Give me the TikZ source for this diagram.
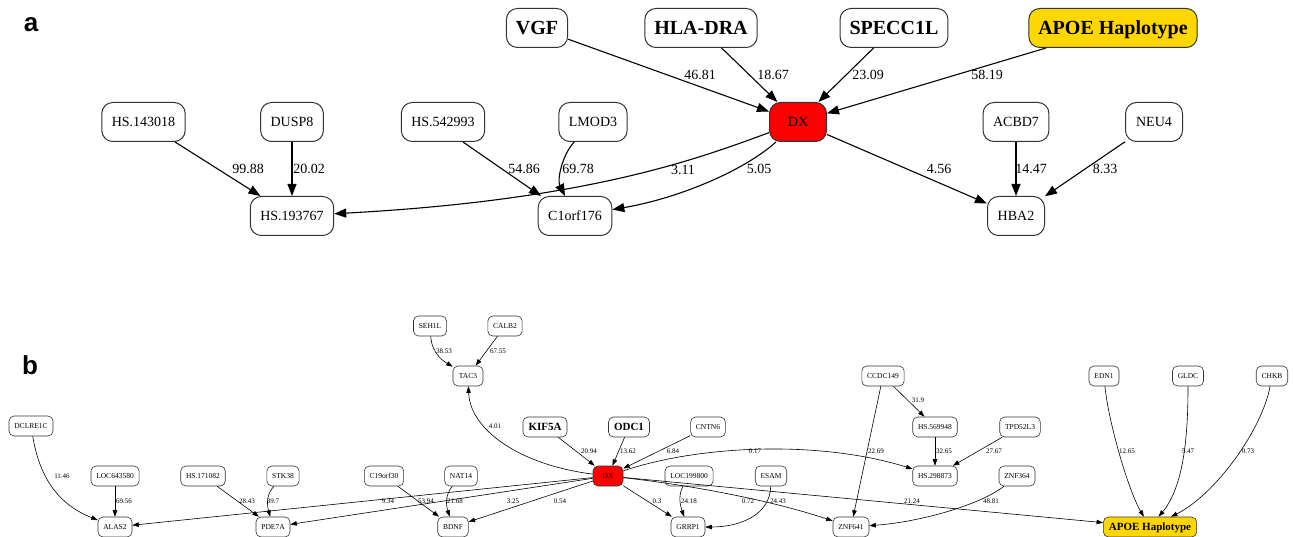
\documentclass[tikz,border=0pt]{standalone}
\usepackage{fontspec}
\setmainfont{Liberation Serif}
\newfontfamily\labfont{Liberation Sans}
\usetikzlibrary{arrows.meta}
\definecolor{dxred}{HTML}{FF0000}
\definecolor{apoegold}{HTML}{FFD700}
\definecolor{edgegray}{HTML}{333333}
\tikzset{
  nA/.style={draw=edgegray, fill=white, rounded corners=11pt, minimum height=39pt, minimum width=57pt,
    inner xsep=10pt, line width=1pt, font=\fontsize{14}{16}\selectfont, text height=12.3pt, text depth=3pt},
  nAb/.style={nA, font=\fontsize{20}{22}\selectfont\bfseries, inner xsep=9.5pt, text height=17.2pt, text depth=4pt},
  nB/.style={draw=edgegray, fill=white, rounded corners=5pt, minimum height=20pt, minimum width=30pt,
    inner xsep=5.3pt, line width=0.6pt, font=\fontsize{7.5}{9}\selectfont, text height=6.55pt, text depth=1.6pt},
  nBb/.style={nB, font=\fontsize{11}{13}\selectfont\bfseries, inner xsep=5.5pt, text height=9.7pt, text depth=2.4pt},
  eA/.style={-{Triangle[length=12pt,width=9pt]}, line width=1.1pt},
  eB/.style={-{Triangle[length=6.5pt,width=4.5pt]}, line width=0.6pt},
  lA/.style={font=\fontsize{14}{16}\selectfont, inner sep=0pt},
  lB/.style={font=\fontsize{7}{8}\selectfont, inner sep=0pt},
  panel/.style={font=\labfont\fontsize{26}{28}\selectfont\bfseries, inner sep=0pt, anchor=base},
}
\begin{document}
\begin{tikzpicture}[x=1pt,y=-1pt]
\fill[white] (0,0) rectangle (1293,537);
\useasboundingbox (0,0) rectangle (1293,537);

% ---------------- panel a ----------------
\node[panel] (pa) at (31,32) {a};
\node[nAb] (vgf) at (537,28) {VGF};
\node[nAb] (hla) at (701,28) {HLA-DRA};
\node[nAb] (specc) at (894,28) {SPECC1L};
\node[nAb, fill=apoegold] (apoeA) at (1113,28) {APOE Haplotype};
\node[nA, fill=dxred] (dxA) at (798,122) {DX};
\node[nA] (hs143) at (143.5,122) {HS.143018};
\node[nA] (dusp8) at (292,122) {DUSP8};
\node[nA] (hs542) at (443,122) {HS.542993};
\node[nA] (lmod3) at (593,122) {LMOD3};
\node[nA] (acbd7) at (1016,122) {ACBD7};
\node[nA] (neu4) at (1154,122) {NEU4};
\node[nA] (hs193) at (292,216) {HS.193767};
\node[nA] (c1orf) at (575,216) {C1orf176};
\node[nA] (hba2) at (1016,216) {HBA2};

\draw[eA] (vgf) -- (dxA);
\draw[eA] (hla) -- (dxA);
\draw[eA] (specc) -- (dxA);
\draw[eA] (apoeA) -- (dxA);
\draw[eA] (hs143) -- (hs193);
\draw[eA] (dusp8) -- (hs193);
\draw[eA] (dxA) .. controls (700,158) and (590,200) .. (hs193);
\draw[eA] ([xshift=20pt]hs542.south) -- ([xshift=-34pt]c1orf.north);
\draw[eA] (lmod3) .. controls (562,155) and (557,180) .. (c1orf);
\draw[eA] (dxA) .. controls (745,170) and (680,198) .. (c1orf);
\draw[eA] (dxA) -- (hba2);
\draw[eA] (acbd7) -- (hba2);
\draw[eA] (neu4) -- (hba2);

\node[lA] (l4681) at (700,75) {46.81};
\node[lA] (l1867) at (773,75) {18.67};
\node[lA] (l2309) at (868,75) {23.09};
\node[lA] (l5819) at (987,75) {58.19};
\node[lA] (l9988) at (248,169) {99.88};
\node[lA] (l2002) at (309,169) {20.02};
\node[lA] (l5486) at (524,169) {54.86};
\node[lA] (l6978) at (578,169) {69.78};
\node[lA] (l311) at (683,170) {3.11};
\node[lA] (l505) at (759,169) {5.05};
\node[lA] (l456) at (939,169) {4.56};
\node[lA] (l1447) at (1031,169) {14.47};
\node[lA] (l833) at (1105,169) {8.33};

% ---------------- panel b ----------------
\node[panel] (pb) at (30,374) {b};
\node[nB] (seh) at (430,326) {SEH1L};
\node[nB] (calb2) at (505,326) {CALB2};
\node[nB] (tac3) at (468,376) {TAC3};
\node[nBb] (kif5a) at (545,427) {KIF5A};
\node[nBb] (odc1) at (629,427) {ODC1};
\node[nB] (cntn6) at (708,427) {CNTN6};
\node[nB, fill=dxred] (dxB) at (608,476) {DX};
\node[nB] (dcl) at (31,426) {DCLRE1C};
\node[nB] (loc643) at (115,476) {LOC643580};
\node[nB] (hs171) at (203,476) {HS.171082};
\node[nB] (stk38) at (283,476) {STK38};
\node[nB] (c19) at (384,476) {C19orf30};
\node[nB] (nat14) at (461,476) {NAT14};
\node[nB] (alas2) at (115,527) {ALAS2};
\node[nB] (pde7a) at (273,527) {PDE7A};
\node[nB] (bdnf) at (453,527) {BDNF};
\node[nB] (loc199) at (689,476) {LOC199800};
\node[nB] (esam) at (771,476) {ESAM};
\node[nB] (grrp1) at (688,527) {GRRP1};
\node[nB] (znf641) at (851,527) {ZNF641};
\node[nB] (ccdc) at (883,376) {CCDC149};
\node[nB] (hs569) at (935,427) {HS.569948};
\node[nB] (hs298) at (935,476) {HS.298873};
\node[nB] (tpd) at (1020,427) {TPD52L3};
\node[nB] (znf364) at (1017,476) {ZNF364};
\node[nB] (edn1) at (1104,376) {EDN1};
\node[nB] (gldc) at (1188,376) {GLDC};
\node[nB] (chkb) at (1272,376) {CHKB};
\node[nBb, fill=apoegold] (apoeB) at (1150,527) {APOE Haplotype};

\draw[eB] (seh) .. controls (432,355) and (445,362) .. (tac3);
\draw[eB] (calb2) -- (tac3);
\draw[eB] (dxB) .. controls (520,465) and (470,430) .. (tac3);
\draw[eB] (kif5a) -- (dxB);
\draw[eB] (odc1) -- (dxB);
\draw[eB] (cntn6) -- (dxB);
\draw[eB] (dxB) .. controls (700,445) and (820,440) .. (hs298);
\draw[eB] (dcl) .. controls (40,480) and (60,505) .. (alas2);
\draw[eB] (loc643) -- (alas2);
\draw[eB] (dxB) -- (alas2);
\draw[eB] (hs171) -- (pde7a);
\draw[eB] (stk38) .. controls (266,495) and (267,505) .. (pde7a);
\draw[eB] (dxB) -- (pde7a);
\draw[eB] (c19) -- (bdnf);
\draw[eB] (nat14) .. controls (445,495) and (446,505) .. (bdnf);
\draw[eB] (dxB) -- (bdnf);
\draw[eB] (dxB) -- (grrp1);
\draw[eB] (loc199) .. controls (678,495) and (680,505) .. (grrp1);
\draw[eB] (esam) .. controls (770,515) and (740,527) .. (grrp1);
\draw[eB] (dxB) .. controls (690,485) and (770,500) .. (znf641);
\draw[eB] (ccdc) -- (znf641);
\draw[eB] (znf364) .. controls (980,505) and (920,522) .. (znf641);
\draw[eB] (ccdc) -- (hs569);
\draw[eB] (hs569) -- (hs298);
\draw[eB] (tpd) -- (hs298);
\draw[eB] (dxB) -- (apoeB);
\draw[eB] (edn1) .. controls (1108,420) and (1128,490) .. (apoeB);
\draw[eB] (gldc) .. controls (1188,430) and (1185,485) .. (apoeB);
\draw[eB] (chkb) .. controls (1262,430) and (1215,495) .. (apoeB);

\node[lB] (b3853) at (444,351) {38.53};
\node[lB] (b6755) at (498,351) {67.55};
\node[lB] (b401) at (495,426) {4.01};
\node[lB] (b2094) at (589,451) {20.94};
\node[lB] (b1362) at (628,451) {13.62};
\node[lB] (b684) at (673,451) {6.84};
\node[lB] (b017) at (755,451) {0.17};
\node[lB] (b2269) at (876,451) {22.69};
\node[lB] (b319) at (918,400) {31.9};
\node[lB] (b3265) at (944,451) {32.65};
\node[lB] (b2767) at (994,451) {27.67};
\node[lB] (b1265) at (1127,451) {12.65};
\node[lB] (b547) at (1188,451) {5.47};
\node[lB] (b073) at (1248,451) {0.73};
\node[lB] (b1146) at (62,476) {11.46};
\node[lB] (b6956) at (124,501) {69.56};
\node[lB] (b2843) at (247,501) {28.43};
\node[lB] (b397) at (273,501) {39.7};
\node[lB] (b934) at (388,501) {9.34};
\node[lB] (b5394) at (426,501) {53.94};
\node[lB] (b2168) at (455,501) {21.68};
\node[lB] (b325) at (513,501) {3.25};
\node[lB] (b054) at (560,501) {0.54};
\node[lB] (b03) at (657,501) {0.3};
\node[lB] (b2418) at (689,501) {24.18};
\node[lB] (b072) at (748,501) {0.72};
\node[lB] (b2443) at (778,501) {24.43};
\node[lB] (b2124) at (912,501) {21.24};
\node[lB] (b4881) at (991,501) {48.81};
\end{tikzpicture}
\end{document}
